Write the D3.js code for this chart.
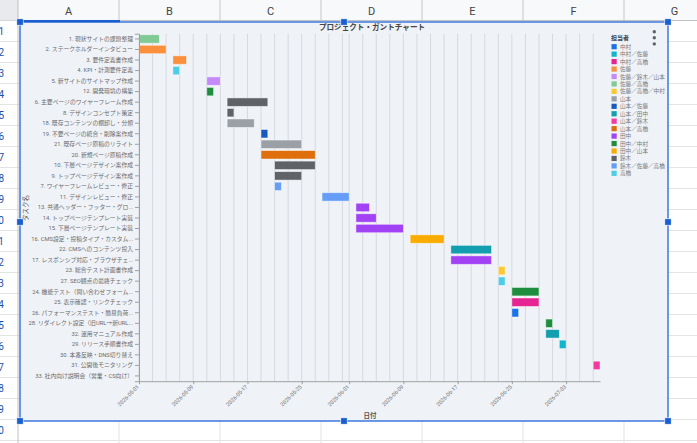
<!DOCTYPE html>
<html>
<head>
<meta charset="utf-8">
<script src="https://cdn.jsdelivr.net/npm/d3@7"></script>
<style>
    html, body { margin: 0; padding: 0; background: #fff; overflow: hidden; }
    svg { display: block; font-family: Roboto, "Noto Sans CJK JP", sans-serif; }
</style>
</head>
<body>
<svg id="sheet" width="697" height="443"></svg>
<script>
// rows of the gantt, top to bottom
var tasks = [
    "1. 現状サイトの課題整理",
    "2. ステークホルダーインタビュー",
    "3. 要件定義書作成",
    "4. KPI・計測要件定義",
    "5. 新サイトのサイトマップ作成",
    "12. 開発環境の構築",
    "6. 主要ページのワイヤーフレーム作成",
    "8. デザインコンセプト策定",
    "18. 既存コンテンツの棚卸し・分類",
    "19. 不要ページの統合・削除案作成",
    "21. 既存ページ原稿のリライト",
    "20. 新規ページ原稿作成",
    "10. 下層ページデザイン案作成",
    "9. トップページデザイン案作成",
    "7. ワイヤーフレームレビュー・修正",
    "11. デザインレビュー・修正",
    "13. 共通ヘッダー・フッター・グロ...",
    "14. トップページテンプレート実装",
    "15. 下層ページテンプレート実装",
    "16. CMS設定・投稿タイプ・カスタム...",
    "22. CMSへのコンテンツ投入",
    "17. レスポンシブ対応・ブラウザチェ...",
    "23. 総合テスト計画書作成",
    "27. SEO観点の最終チェック",
    "24. 機能テスト（問い合わせフォーム...",
    "25. 表示確認・リンクチェック",
    "26. パフォーマンステスト・簡易負荷...",
    "28. リダイレクト設定（旧URL→新URL...",
    "32. 運用マニュアル作成",
    "29. リリース手順書作成",
    "30. 本番反映・DNS切り替え",
    "31. 公開後モニタリング",
    "33. 社内向け説明会（営業・CS向け）"
];

var owners = [
    "佐藤／高橋", "佐藤", "佐藤", "高橋", "佐藤／鈴木／山本", "田中／中村",
    "鈴木", "鈴木", "山本", "山本／佐藤", "山本", "山本／高橋",
    "鈴木", "鈴木", "鈴木／佐藤／高橋", "鈴木／佐藤／高橋", "田中", "田中",
    "田中", "田中／山本", "山本／田中", "田中", "佐藤／高橋／中村", "高橋",
    "田中／中村", "中村／高橋", "中村", "田中／中村", "山本／田中", "中村／佐藤",
    "中村", "山本／鈴木", "中村"
];

var startDates = [
    "2026-05-01", "2026-05-01", "2026-05-06", "2026-05-06", "2026-05-11", "2026-05-11",
    "2026-05-14", "2026-05-14", "2026-05-14", "2026-05-19", "2026-05-19", "2026-05-19",
    "2026-05-21", "2026-05-21", "2026-05-21", "2026-05-28", "2026-06-02", "2026-06-02",
    "2026-06-02", "2026-06-10", "2026-06-16", "2026-06-16", "2026-06-23", "2026-06-23",
    "2026-06-25", "2026-06-25", "2026-06-25", "2026-06-30", "2026-06-30", "2026-07-02",
    "2026-07-06", "2026-07-07", "2026-07-08"
];

var endDates = [
    "2026-05-04", "2026-05-05", "2026-05-08", "2026-05-07", "2026-05-13", "2026-05-12",
    "2026-05-20", "2026-05-15", "2026-05-18", "2026-05-20", "2026-05-25", "2026-05-27",
    "2026-05-27", "2026-05-25", "2026-05-22", "2026-06-01", "2026-06-04", "2026-06-05",
    "2026-06-09", "2026-06-15", "2026-06-22", "2026-06-22", "2026-06-24", "2026-06-24",
    "2026-06-29", "2026-06-29", "2026-06-26", "2026-07-01", "2026-07-02", "2026-07-03",
    "2026-07-06", "2026-07-08", "2026-07-08"
];

var legendNames = [
    "中村", "中村／佐藤", "中村／高橋", "佐藤", "佐藤／鈴木／山本", "佐藤／高橋",
    "佐藤／高橋／中村", "山本", "山本／佐藤", "山本／田中", "山本／鈴木", "山本／高橋",
    "田中", "田中／中村", "田中／山本", "鈴木", "鈴木／佐藤／高橋", "高橋"
];

var legendColors = [
    "#1a73e8", "#12b5cb", "#e52592", "#fa903e", "#c58af9", "#81c995",
    "#fcc934", "#9aa0a6", "#185abc", "#129eaf", "#f439a0", "#df6f0c",
    "#a142f4", "#1e8e3e", "#f9ab00", "#5f6368", "#669df6", "#4ecde6"
];

var tickLabels = [
    "2026-05-01", "2026-05-09", "2026-05-17", "2026-05-25", "2026-06-01",
    "2026-06-09", "2026-06-17", "2026-06-25", "2026-07-03"
];

var dateRange = ["2026-05-01", "2026-07-08"];
var columnLetters = ["A", "B", "C", "D", "E", "F", "G"];

var parseDate = d3.utcParse("%Y-%m-%d");
var svg = d3.select("#sheet");

// ---- spreadsheet behind the chart ----
var colX = d3.scaleLinear().domain([0, 1]).range([18, 119]);
var rowY = d3.scaleLinear().domain([0, 1]).range([20.5, 41.5]);

svg.append("g").selectAll("line")
    .data(d3.range(1, 23))
    .enter().append("line")
    .attr("x1", 0).attr("x2", 697)
    .attr("y1", function(d) { return rowY(d); })
    .attr("y2", function(d) { return rowY(d); })
    .attr("stroke", "#e2e3e3");

svg.append("g").selectAll("line")
    .data(d3.range(1, 7))
    .enter().append("line")
    .attr("x1", function(d) { return colX(d); })
    .attr("x2", function(d) { return colX(d); })
    .attr("y1", 0).attr("y2", 443)
    .attr("stroke", "#e2e3e3");

// column header band
svg.append("rect").attr("x", 0).attr("y", 0).attr("width", 697).attr("height", 20.5).attr("fill", "#f8f9fa");
svg.append("g").selectAll("line")
    .data(d3.range(1, 7))
    .enter().append("line")
    .attr("x1", function(d) { return colX(d); })
    .attr("x2", function(d) { return colX(d); })
    .attr("y1", 0).attr("y2", 20.5)
    .attr("stroke", "#c7c7c7");
svg.append("g").selectAll("text")
    .data(columnLetters)
    .enter().append("text")
    .attr("x", function(d, i) { return colX(i + 0.5); })
    .attr("y", 11)
    .attr("text-anchor", "middle")
    .attr("dominant-baseline", "central")
    .attr("font-size", 11)
    .attr("fill", "#444")
    .text(function(d) { return d; });
svg.append("line").attr("x1", 0).attr("x2", 697).attr("y1", 20.5).attr("y2", 20.5).attr("stroke", "#c0c0c0");

// row header strip (scrolled, only the last digits show)
svg.append("rect").attr("x", 0).attr("y", 0).attr("width", 18).attr("height", 20.5).attr("fill", "#e8eaed");
svg.append("line").attr("x1", 18).attr("x2", 18).attr("y1", 0).attr("y2", 443).attr("stroke", "#c0c0c0");
svg.append("g").selectAll("text")
    .data(d3.range(1, 22))
    .enter().append("text")
    .attr("x", 4)
    .attr("y", function(d) { return rowY(d - 0.5); })
    .attr("text-anchor", "end")
    .attr("dominant-baseline", "central")
    .attr("font-size", 10)
    .attr("fill", "#1f4fa8")
    .text(function(d) { return d; });

// ---- chart box ----
var box = { left: 20, top: 22, right: 668, bottom: 421 };
svg.append("rect")
    .attr("x", box.left).attr("y", box.top)
    .attr("width", box.right - box.left).attr("height", box.bottom - box.top)
    .attr("fill", "#eff2f7");

var plot = { left: 139, right: 600, top: 33.7, bottom: 381.2 };

var x = d3.scaleUtc()
    .domain(dateRange.map(parseDate))
    .range([plot.left, plot.right]);

var y = d3.scaleBand()
    .domain(tasks)
    .range([plot.top, plot.bottom])
    .paddingInner(0.2)
    .paddingOuter(0.1);

var color = d3.scaleOrdinal().domain(legendNames).range(legendColors);

// vertical gridlines every 2 days
svg.append("g").selectAll("line")
    .data(x.ticks(d3.utcDay.every(2)))
    .enter().append("line")
    .attr("x1", function(d) { return x(d); })
    .attr("x2", function(d) { return x(d); })
    .attr("y1", plot.top).attr("y2", plot.bottom)
    .attr("stroke", "#d6d9de");

// bars
svg.append("g").selectAll("rect")
    .data(tasks)
    .enter().append("rect")
    .attr("x", function(d, i) { return x(parseDate(startDates[i])); })
    .attr("y", function(d) { return y(d); })
    .attr("width", function(d, i) { return x(parseDate(endDates[i])) - x(parseDate(startDates[i])); })
    .attr("height", y.bandwidth())
    .attr("fill", function(d, i) { return color(owners[i]); })
    .attr("stroke", "#ffffff")
    .attr("stroke-opacity", 0.55)
    .attr("stroke-width", 0.8);

// y axis
var yAxis = svg.append("g")
    .attr("transform", "translate(" + plot.left + ",0)")
    .call(d3.axisLeft(y).tickSize(4).tickPadding(2));
yAxis.select(".domain").attr("stroke", "#a0a0a0");
yAxis.selectAll(".tick line").attr("stroke", "#a0a0a0");
yAxis.selectAll(".tick text")
    .attr("font-size", 5.8)
    .attr("font-family", "Roboto, 'Noto Sans CJK JP', sans-serif")
    .attr("fill", "#6b6b6b");

// x axis
var xAxis = svg.append("g")
    .attr("transform", "translate(0," + plot.bottom + ")")
    .call(d3.axisBottom(x)
        .tickValues(tickLabels.map(parseDate))
        .tickFormat(d3.utcFormat("%Y-%m-%d"))
        .tickSize(3)
        .tickSizeOuter(0));
xAxis.select(".domain").attr("stroke", "#a0a0a0");
xAxis.selectAll(".tick line").attr("stroke", "#a0a0a0");
xAxis.selectAll(".tick text")
    .attr("font-size", 5.5)
    .attr("font-family", "Roboto, sans-serif")
    .attr("fill", "#7a7a7a")
    .attr("text-anchor", "end")
    .attr("dy", null)
    .attr("y", 0)
    .attr("transform", "translate(0,6) rotate(-45)");

// titles
svg.append("text")
    .attr("x", 372).attr("y", 27.5)
    .attr("text-anchor", "middle").attr("dominant-baseline", "central")
    .attr("font-size", 7.6).attr("font-weight", "bold").attr("fill", "#444")
    .text("プロジェクト・ガントチャート");

svg.append("text")
    .attr("x", 370).attr("y", 415.5)
    .attr("text-anchor", "middle").attr("dominant-baseline", "central")
    .attr("font-size", 6.5).attr("font-weight", "bold").attr("fill", "#555")
    .text("日付");

svg.append("text")
    .attr("transform", "translate(26,208) rotate(-90)")
    .attr("text-anchor", "middle").attr("dominant-baseline", "central")
    .attr("font-size", 6.5).attr("fill", "#555")
    .text("タスク名");

// legend
var legend = svg.append("g");
legend.append("text")
    .attr("x", 611).attr("y", 37)
    .attr("dominant-baseline", "central")
    .attr("font-size", 6).attr("font-weight", "bold").attr("fill", "#444")
    .text("担当者");

var item = legend.selectAll("g.item")
    .data(legendNames)
    .enter().append("g")
    .attr("class", "item")
    .attr("transform", function(d, i) { return "translate(611.5," + (46.7 + i * 7.45) + ")"; });
item.append("rect")
    .attr("x", 0).attr("y", -2.6)
    .attr("width", 5.2).attr("height", 5.2)
    .attr("fill", function(d) { return color(d); });
item.append("text")
    .attr("x", 8.5).attr("y", 0)
    .attr("dominant-baseline", "central")
    .attr("font-size", 5.6).attr("fill", "#7a7a7a")
    .text(function(d) { return d; });

// overflow menu dots
svg.append("g").selectAll("circle")
    .data([31.7, 37.8, 43.9])
    .enter().append("circle")
    .attr("cx", 654.3).attr("cy", function(d) { return d; })
    .attr("r", 1.7).attr("fill", "#5f6368");

// selection frame and handles
svg.append("rect")
    .attr("x", box.left).attr("y", box.top)
    .attr("width", box.right - box.left).attr("height", box.bottom - box.top)
    .attr("fill", "none").attr("stroke", "#2f6fdc").attr("stroke-width", 1.4);
svg.append("line").attr("x1", 20).attr("x2", 120).attr("y1", 21.2).attr("y2", 21.2)
    .attr("stroke", "#1a5fd0").attr("stroke-width", 2.2);

var midX = (box.left + box.right) / 2, midY = 222;
var handles = [
    [box.left, box.top], [midX, box.top], [box.right, box.top],
    [box.left, midY], [box.right, midY],
    [box.left, box.bottom], [midX, box.bottom], [box.right, box.bottom]
];
svg.append("g").selectAll("rect")
    .data(handles)
    .enter().append("rect")
    .attr("x", function(d) { return d[0] - 3.2; })
    .attr("y", function(d) { return d[1] - 3.2; })
    .attr("width", 6.4).attr("height", 6.4)
    .attr("fill", "#1a5fd0")
    .attr("stroke", "#fff").attr("stroke-width", 0.6);
</script>
</body>
</html>
